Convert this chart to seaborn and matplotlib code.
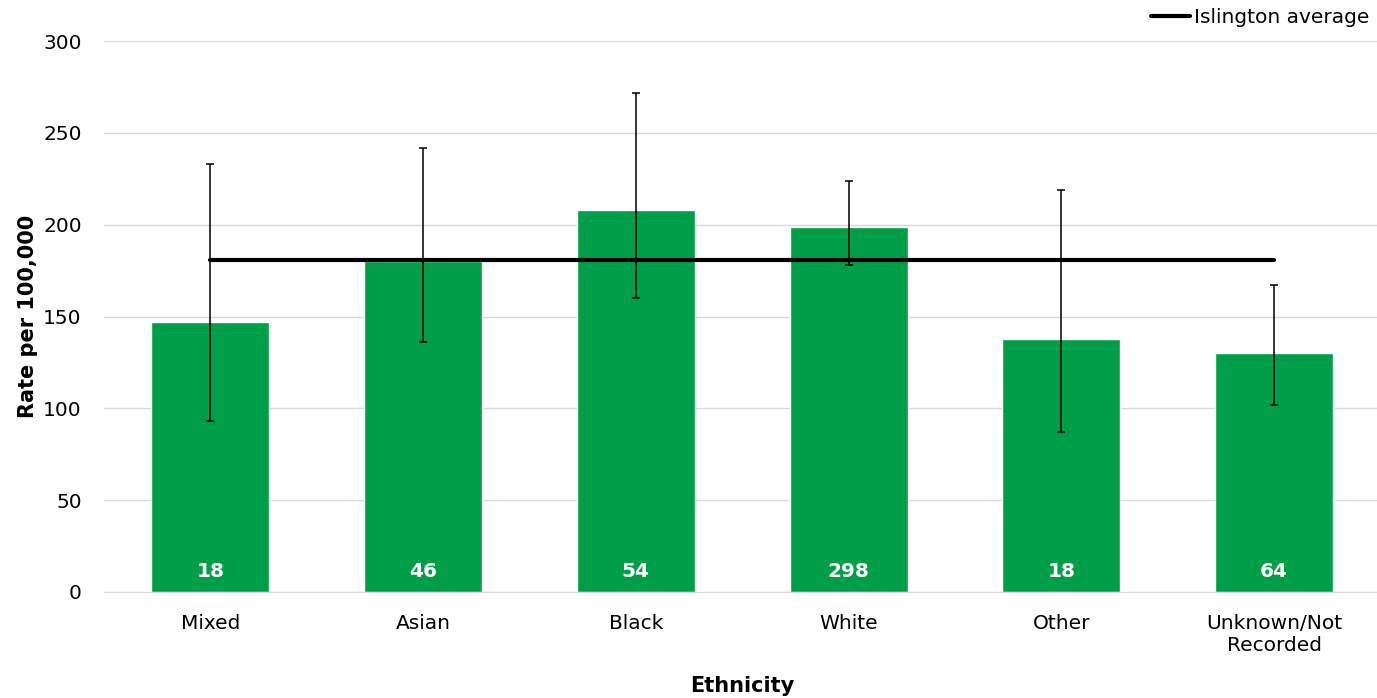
import numpy as np
import pandas as pd
import matplotlib
matplotlib.use("Agg")
import matplotlib.pyplot as plt
import seaborn as sns

# data
ethnicity = ["Mixed", "Asian", "Black", "White", "Other", "Unknown/Not\nRecorded"]
rate = [147, 180, 208, 199, 138, 130]
ci_lower = [93, 136, 160, 178, 87, 102]
ci_upper = [233, 242, 272, 224, 219, 167]
counts = [18, 46, 54, 298, 18, 64]
islington_avg = 181

df = pd.DataFrame({"Ethnicity": ethnicity, "Rate": rate})

sns.set_style("white")
plt.rcParams["font.family"] = ["DejaVu Sans"]
plt.rcParams["text.color"] = "black"
plt.rcParams["axes.labelcolor"] = "black"

fig = plt.figure(figsize=(13.77, 6.98), dpi=100)
ax = fig.add_axes([0.0755, 0.152, 0.927, 0.789])

green = "#009E49"
sns.barplot(data=df, x="Ethnicity", y="Rate", color=green, width=0.555,
            saturation=1, ax=ax, zorder=2)

x = np.arange(len(ethnicity))
r = np.array(rate)
yerr = [r - np.array(ci_lower), np.array(ci_upper) - r]
ax.errorbar(x, r, yerr=yerr, fmt="none", ecolor="black", elinewidth=1.1,
            capsize=3, capthick=1.1, zorder=4)

ax.plot(x, [islington_avg] * len(x), color="black", lw=3,
        label="Islington average", zorder=3)

for i, c in enumerate(counts):
    ax.text(i, 11, str(c), ha="center", va="center", color="white",
            fontsize=14.5, fontweight="bold", zorder=5)

ax.set_ylim(0, 300)
ax.set_yticks(range(0, 301, 50))
ax.set_xlim(-0.5, len(ethnicity) - 0.5)
ax.yaxis.grid(True, color="#d9d9d9", lw=1, zorder=0)
ax.set_axisbelow(True)
for s in ["top", "right", "left"]:
    ax.spines[s].set_visible(False)
ax.spines["bottom"].set_color("#d9d9d9")
ax.tick_params(axis="both", length=0, labelsize=14.5, colors="black")
ax.tick_params(axis="x", pad=16)
ax.tick_params(axis="y", pad=16)

ax.set_xlabel("Ethnicity", fontsize=15, fontweight="bold", labelpad=15)
ax.set_ylabel("Rate per 100,000", fontsize=15, fontweight="bold", labelpad=4)

ax.legend(loc="upper right", bbox_to_anchor=(1.0, 1.0),
          bbox_transform=fig.transFigure, frameon=False, fontsize=14.5,
          handlelength=1.9, handletextpad=0.2, borderaxespad=0.0)

fig.savefig("out.png", dpi=100)
